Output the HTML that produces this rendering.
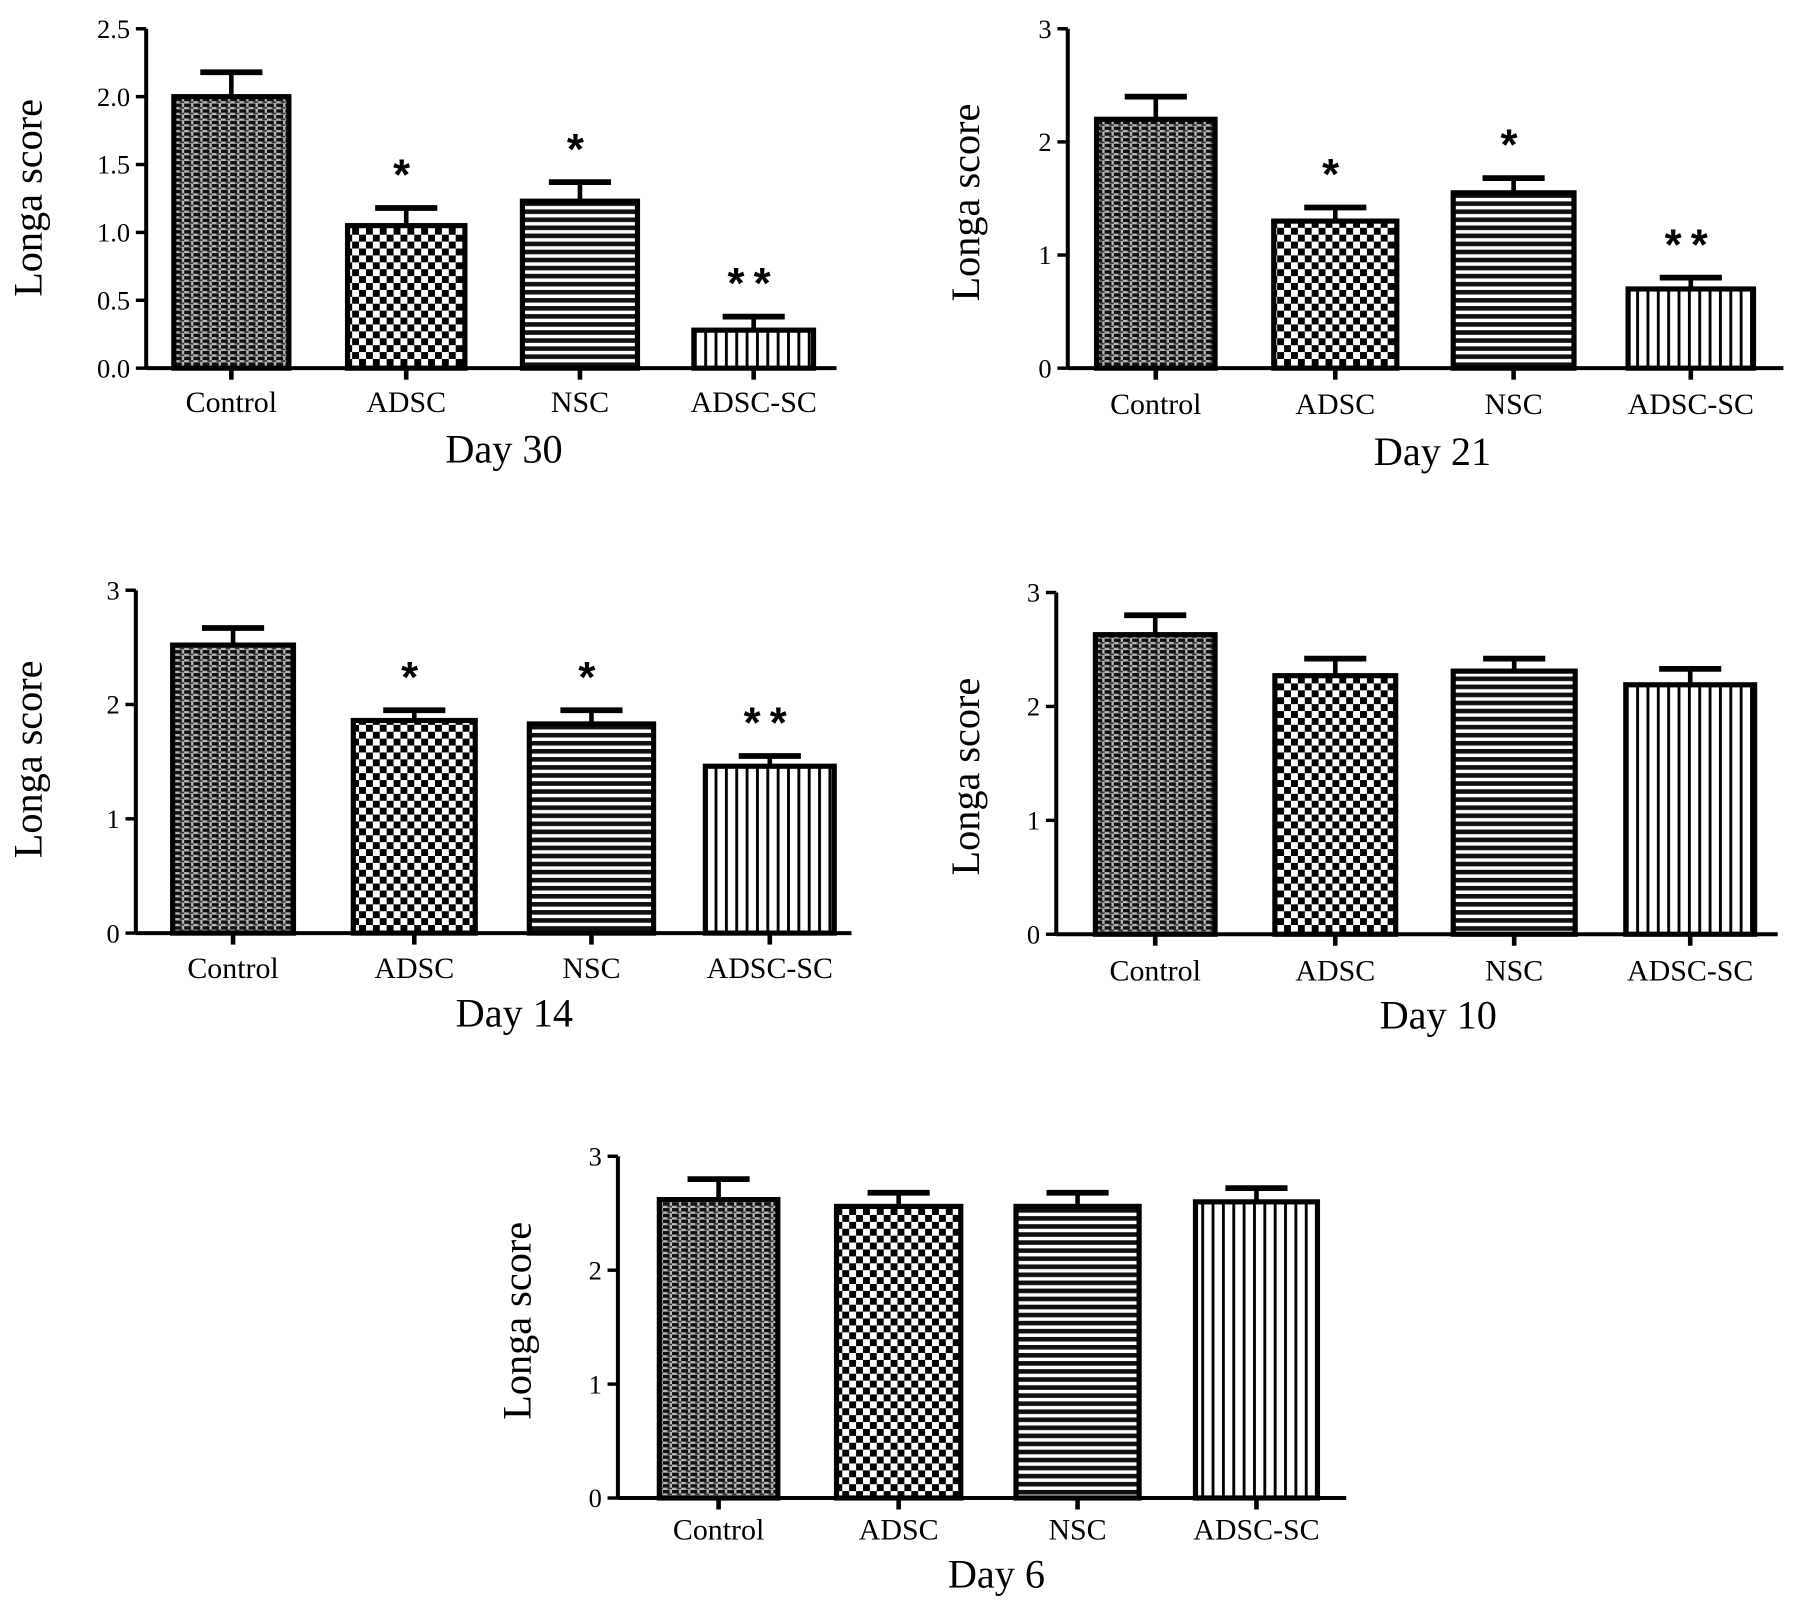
<!DOCTYPE html>
<html><head><meta charset="utf-8"><style>
html,body{margin:0;padding:0;background:#fff;}
svg{display:block;font-family:"Liberation Serif",serif;}
</style></head><body>
<svg id="fig" width="1795" height="1605" viewBox="0 0 1560 1395" xmlns="http://www.w3.org/2000/svg">
<defs>
<pattern id="pCtrl" width="8" height="5" patternUnits="userSpaceOnUse">
<rect width="8" height="5" fill="#bbb"/><rect x="0" y="0" width="6" height="3" fill="#111"/><rect x="4" y="3" width="4" height="1.5" fill="#333"/></pattern>
<pattern id="pAdsc" width="12" height="12" patternUnits="userSpaceOnUse">
<rect width="12" height="12" fill="#fff"/><rect x="0" y="0" width="6" height="6" fill="#000"/><rect x="6" y="6" width="6" height="6" fill="#000"/></pattern>
<pattern id="pNsc" width="8" height="7" patternUnits="userSpaceOnUse">
<rect width="8" height="7" fill="#fff"/><rect x="0" y="0" width="8" height="4" fill="#111"/></pattern>
<pattern id="pSc" width="9" height="8" patternUnits="userSpaceOnUse">
<rect width="9" height="8" fill="#fff"/><rect x="0" y="0" width="2.5" height="8" fill="#000"/></pattern>
</defs>
<g id="root"></g>
</svg>
<script>
const categories = ["Control","ADSC","NSC","ADSC-SC"];
const titles = ["Day 30","Day 21","Day 14","Day 10","Day 6"];
const yMaxes = [2.5,3,3,3,3];
const tickLabels30 = ["0.0","0.5","1.0","1.5","2.0","2.5"];
const tickLabels3 = ["0","1","2","3"];
const means30 = [2.0,1.05,1.23,0.28];
const errs30 = [2.18,1.18,1.37,0.38];
const stars30 = ["","*","*","**"];
const means21 = [2.2,1.3,1.55,0.7];
const errs21 = [2.4,1.42,1.68,0.8];
const stars21 = ["","*","*","**"];
const means14 = [2.52,1.86,1.83,1.46];
const errs14 = [2.67,1.95,1.95,1.55];
const stars14 = ["","*","*","**"];
const means10 = [2.63,2.27,2.31,2.19];
const errs10 = [2.8,2.42,2.42,2.33];
const stars10 = ["","","",""];
const means6 = [2.62,2.56,2.56,2.6];
const errs6 = [2.8,2.68,2.68,2.72];
const stars6 = ["","","",""];

const NS="http://www.w3.org/2000/svg";
const root=document.getElementById('root');
function mk(tag,attrs,parent){const e=document.createElementNS(NS,tag);for(const k in attrs)e.setAttribute(k,attrs[k]);(parent||root).appendChild(e);return e;}
const fills=["url(#pCtrl)","url(#pAdsc)","url(#pNsc)","url(#pSc)"];
const layouts=[
 {ax:127,top:25,bot:320,end:727,bx:[151,302,454,603],bw:[100,102,100,104],ly:358,tx:438,ty:402,ylx:25,yly:172},
 {ax:928,top:25,bot:320,end:1550,bx:[953,1107,1263,1415],bw:[103,107,105,109],ly:360,tx:1245,ty:404,ylx:840,yly:176},
 {ax:118,top:513,bot:811,end:740,bx:[150,307,460,613],bw:[105,106,108,112],ly:850,tx:447,ty:892,ylx:25,yly:660},
 {ax:918,top:515,bot:812,end:1545,bx:[952,1108,1263,1413],bw:[104,105,106,112],ly:852,tx:1250,ty:894,ylx:840,yly:675},
 {ax:537,top:1005,bot:1302,end:1170,bx:[573,727,883,1039],bw:[103,108,107,106],ly:1338,tx:866,ty:1380,ylx:450,yly:1148}
];
const meansAll=[means30,means21,means14,means10,means6];
const errsAll=[errs30,errs21,errs14,errs10,errs6];
const starsAll=[stars30,stars21,stars14,stars10,stars6];
const ticksAll=[tickLabels30,tickLabels3,tickLabels3,tickLabels3,tickLabels3];
const slugs=["day-30","day-21","day-14","day-10","day-6"];

layouts.forEach((L,p)=>{
 const g=mk('g',{});
 
 
 const yMax=yMaxes[p];
 const y=v=>L.bot-(v/yMax)*(L.bot-L.top);
 const ticks=ticksAll[p];
 meansAll[p].forEach((m,i)=>{
  const x=L.bx[i], w=L.bw[i], cx=x+w/2;
  const e=errsAll[p][i];
  const eb=mk('line',{x1:cx,x2:cx,y1:y(m),y2:y(e),stroke:'#000','stroke-width':4},g);
  
  
  const cap=mk('line',{x1:cx-27,x2:cx+27,y1:y(e),y2:y(e),stroke:'#000','stroke-width':5},g);
  
  
  const r=mk('rect',{x:x,y:y(m),width:w,height:L.bot-y(m),fill:fills[i],stroke:'#000','stroke-width':4.5},g);
  
  
  if(starsAll[p][i]){
   const s=mk('text',{x:cx,y:y(e)-16,'text-anchor':'middle','font-size':38,'font-weight':'bold','font-family':'Liberation Sans,sans-serif','letter-spacing':8},g);
   s.textContent=starsAll[p][i];
   
   
  }
  const tk=mk('line',{x1:cx,x2:cx,y1:L.bot,y2:L.bot+10,stroke:'#000','stroke-width':4},g);
  
  
  const lab=mk('text',{x:cx,y:L.ly,'text-anchor':'middle','font-size':26},g);
  lab.textContent=categories[i];
  
  
 });
 const ya=mk('line',{x1:L.ax,x2:L.ax,y1:L.top,y2:L.bot,stroke:'#000','stroke-width':3.5},g);
 
 
 const xa=mk('line',{x1:L.ax,x2:L.end,y1:L.bot,y2:L.bot,stroke:'#000','stroke-width':3.5},g);
 
 
 ticks.forEach((t,k)=>{
  const v=k*(yMax/(ticks.length-1));
  const tl=mk('line',{x1:L.ax-9,x2:L.ax,y1:y(v),y2:y(v),stroke:'#000','stroke-width':3},g);
  
  
  const tt=mk('text',{x:L.ax-14,y:y(v)+8,'text-anchor':'end','font-size':23},g);
  tt.textContent=t;
  
  
 });
 const yl=mk('text',{x:0,y:0,'text-anchor':'middle','font-size':35,transform:`translate(${L.ylx+11},${L.yly}) rotate(-90)`},g);
 yl.textContent="Longa score";
 
 
 const ti=mk('text',{x:L.tx,y:L.ty,'text-anchor':'middle','font-size':35},g);
 ti.textContent=titles[p];
 
 
});
</script>
</body></html>
